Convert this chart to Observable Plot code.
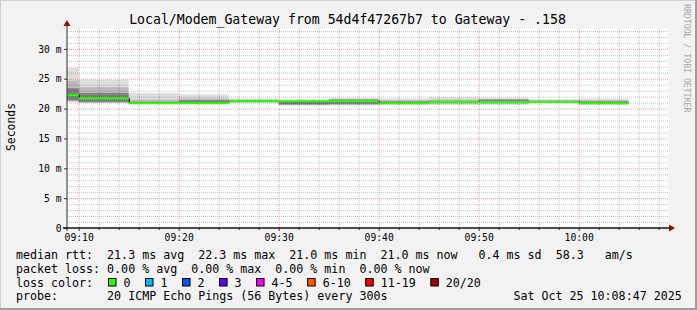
<!DOCTYPE html>
<html><head><meta charset="utf-8">
<script src="https://cdn.jsdelivr.net/npm/d3@7"></script>
<script src="https://cdn.jsdelivr.net/npm/@observablehq/plot@0.6"></script>
<style>
html,body{margin:0;padding:0;background:#f2f2f2;}
#chart{position:relative;width:697px;height:310px;overflow:hidden;}
svg{display:block;}
</style></head><body><div id="chart"></div>
<script>
// ---- data ----
const bucketStart = ["09:05","09:10","09:15","09:20","09:25","09:30","09:35","09:40","09:45","09:50","09:55","10:00"];
const bucketEnd   = ["09:10","09:15","09:20","09:25","09:30","09:35","09:40","09:45","09:50","09:55","10:00","10:05"];
const medianMs    = [22.3, 21.8, 21.0, 21.0, 21.3, 21.3, 21.3, 21.0, 21.2, 21.1, 21.2, 21.0];
const smokeMinMs  = [21.1, 20.9, 20.8, 20.9, 20.9, 20.5, 20.5, 20.6, 20.6, 20.6, 20.9, 20.6];
const smokeMaxMs  = [26.8, 24.8, 22.6, 22.4, 21.7, 21.6, 21.8, 21.7, 21.9, 21.8, 21.6, 21.7];
const smokeMidLo  = [21.2, 21.0, 20.9, 20.95,21.1, 20.6, 20.6, 20.8, 20.8, 20.9, 21.0, 20.8];
const smokeMidHi  = [24.7, 23.6, 21.5, 21.7, 21.5, 21.4, 21.6, 21.4, 21.5, 21.6, 21.4, 21.4];
const smokeCoreLo = [21.4, 21.1, 20.95,21.0, 21.2, 20.7, 20.8, 20.9, 21.0, 21.2, 21.1, 20.9];
const smokeCoreHi = [23.4, 22.6, 21.15,21.4, 21.4, 21.2, 21.5, 21.2, 21.3, 21.5, 21.3, 21.2];
const yTicks      = [0, 5, 10, 15, 20, 25, 30];
const yTickLabels = ["0", "5 m", "10 m", "15 m", "20 m", "25 m", "30 m"];
const xTickLabels = ["09:10", "09:20", "09:30", "09:40", "09:50", "10:00"];
const lossLabels  = ["0", "1", "2", "3", "4-5", "6-10", "11-19", "20/20"];
const lossColors  = ["#26ff00", "#00b8ff", "#0059ff", "#5e00ff", "#ff00ff", "#ff5500", "#ff0000", "#a00000"];
const titleText   = "Local/Modem_Gateway from 54d4f47267b7 to Gateway - .158";
const statLine1   = "median rtt:  21.3 ms avg  22.3 ms max  21.0 ms min  21.0 ms now   0.4 ms sd  58.3   am/s";
const statLine2   = "packet loss: 0.00 % avg  0.00 % max  0.00 % min  0.00 % now";
const lossLead    = "loss color:";
const probeLine   = "probe:       20 ICMP Echo Pings (56 Bytes) every 300s";
const stampText   = "Sat Oct 25 10:08:47 2025";

// ---- build ----
const day = "2025-10-25T";
const T = s => new Date(day + (s.length === 5 ? s + ":00" : s));
const xStart = T("09:08:50"), xEnd = T("10:08:56");
const rows = bucketEnd.map((e, i) => ({
  start: T(bucketStart[i]), end: T(e), med: medianMs[i],
  lo: smokeMinMs[i], hi: smokeMaxMs[i], mlo: smokeMidLo[i], mhi: smokeMidHi[i],
  clo: smokeCoreLo[i], chi: smokeCoreHi[i]
}));
const steps = rows.slice(1).map((r, i) => ({x: r.start, a: rows[i].med, b: r.med}));
const majorX = xTickLabels.map(T);
const allMinor = d3.timeMinute.every(2).range(T("09:10"), xEnd);
const minorX = allMinor.filter(d => d.getMinutes() % 10 !== 0);
const minorY = d3.range(1, 34).filter(v => v % 5 !== 0);
const majorY = yTicks.filter(v => v > 0);
const mono = "'DejaVu Sans Mono', monospace";

const plot = Plot.plot({
  width: 697, height: 310,
  marginLeft: 67, marginRight: 29, marginTop: 28, marginBottom: 82,
  style: {fontFamily: mono, fontSize: "9.7px", background: "transparent", color: "#000", overflow: "visible"},
  x: {type: "time", domain: [xStart, xEnd]},
  y: {domain: [0, 33.5]},
  marks: [
    Plot.frame({fill: "#ffffff", stroke: "none"}),
    Plot.ruleX(minorX, {stroke: "#c4c4c4", strokeDasharray: "1,1", strokeWidth: 1}),
    Plot.ruleY(minorY, {stroke: "#c4c4c4", strokeDasharray: "1,1", strokeWidth: 1}),
    Plot.ruleX(majorX, {stroke: "#ff9a9a", strokeDasharray: "1,1", strokeWidth: 1}),
    Plot.ruleY(majorY, {stroke: "#ff9a9a", strokeDasharray: "1,1", strokeWidth: 1}),
    Plot.rect(rows, {x1: "start", x2: "end", y1: "lo", y2: "hi", fill: "#000", fillOpacity: 0.13, clip: true}),
    Plot.rect(rows, {x1: "start", x2: "end", y1: "mlo", y2: "mhi", fill: "#000", fillOpacity: 0.16, clip: true}),
    Plot.rect(rows, {x1: "start", x2: "end", y1: "clo", y2: "chi", fill: "#000", fillOpacity: 0.32, clip: true}),
    Plot.ruleX(steps, {x: "x", y1: "a", y2: "b", stroke: "#000", strokeWidth: 1}),
    Plot.ruleY(rows, {y: "med", x1: "start", x2: "end", stroke: lossColors[0], strokeWidth: 2, clip: true}),
    Plot.axisY(yTicks, {tickFormat: d => yTickLabels[yTicks.indexOf(d)], tickSize: 3, tickPadding: 3, label: null, stroke: "#333"}),
    Plot.axisX(minorX, {tickFormat: () => "", tickSize: 2, label: null, stroke: "#333"}),
    Plot.axisX(majorX, {tickFormat: d => xTickLabels[majorX.findIndex(m => +m === +d)], tickSize: 3, tickPadding: 3, label: null, stroke: "#333"})
  ]
});
document.getElementById("chart").appendChild(plot);

const svg = d3.select(plot);
const xs = plot.scale("x"), ys = plot.scale("y");
const x0 = xs.apply(xStart), y0 = ys.apply(0);
// axis lines and arrows
svg.append("line").attr("x1", x0).attr("x2", x0).attr("y1", y0 + 3).attr("y2", 25)
  .attr("stroke", "#333").attr("stroke-width", 1);
svg.append("line").attr("x1", x0 - 4).attr("x2", 671).attr("y1", y0).attr("y2", y0)
  .attr("stroke", "#111").attr("stroke-width", 1.3);
svg.append("path").attr("d", `M${x0 - 3.5},26 L${x0 + 3.5},26 L${x0},20 Z`).attr("fill", "#8b1010");
svg.append("path").attr("d", `M669,${y0 - 3.5} L669,${y0 + 3.5} L675,${y0} Z`).attr("fill", "#8b1010");

// frame shading
const W = 697, H = 310;
svg.append("path").attr("d", `M0,${H} L0,0 L${W},0`).attr("fill", "none").attr("stroke", "#cfcfcf").attr("stroke-width", 2);
svg.append("path").attr("d", `M0,${H - 1} L${W - 1},${H - 1} L${W - 1},0`).attr("fill", "none").attr("stroke", "#9e9e9e").attr("stroke-width", 2);

// title
svg.append("text").attr("x", 347.5).attr("y", 23.5).attr("text-anchor", "middle")
  .attr("font-family", mono).attr("font-size", "13.2px").attr("fill", "#000").text(titleText);
// y label
svg.append("text").attr("transform", "translate(15,127) rotate(-90)").attr("text-anchor", "middle")
  .attr("font-family", mono).attr("font-size", "11.4px").attr("fill", "#000").text("Seconds");
// watermark
svg.append("text").attr("transform", "translate(684,4) rotate(90)").attr("text-anchor", "start")
  .attr("font-family", mono).attr("font-size", "8.2px").attr("fill", "#a8a8a8").text("RRDTOOL / TOBI OETIKER");

// legend / stats
const lx = 16, cw = 7.02, fs = "11.65px";
const line = (t, y, x = lx) => svg.append("text").attr("x", x).attr("y", y)
  .attr("text-anchor", "start")
  .attr("font-family", mono).attr("font-size", fs).attr("fill", "#000")
  .style("white-space", "pre").attr("xml:space", "preserve").text(t);
line(statLine1, 259);
line(statLine2, 272.5);
line(lossLead, 286.5);
line(probeLine, 300);
line(stampText, 300, 513.5);
let sx = 108.5;
lossLabels.forEach((lab, i) => {
  svg.append("rect").attr("x", sx).attr("y", 278.5).attr("width", 7.5).attr("height", 7.5)
    .attr("fill", lossColors[i]).attr("stroke", "#000").attr("stroke-width", 1);
  line(lab, 286.5, sx + 15);
  sx += 15 + lab.length * cw + 15;
});
</script></body></html>
